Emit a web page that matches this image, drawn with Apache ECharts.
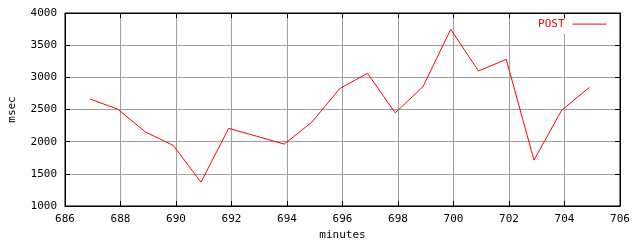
<!DOCTYPE html>
<html>
<head>
<meta charset="utf-8">
<script src="https://cdn.jsdelivr.net/npm/echarts@6/dist/echarts.min.js"></script>
<style>
html,body{margin:0;padding:0;background:#fff;}
#chart{width:640px;height:240px;}
</style>
</head>
<body>
<div id="chart"></div>
<script>
const minutes = [686.9, 687.9, 688.9, 689.9, 690.9, 691.9, 692.9, 693.9, 694.9, 695.9, 696.9, 697.9, 698.9, 699.9, 700.9, 701.9, 702.9, 703.9, 704.9];
const postMsec = [2663, 2505, 2150, 1942, 1370, 2207, 2085, 1962, 2305, 2825, 3062, 2448, 2855, 3746, 3098, 3280, 1713, 2490, 2845];
const seriesName = 'POST';
const xTitle = 'minutes';
const yTitle = 'msec';

const FONT = 'DejaVu Sans Mono';
const chart = echarts.init(document.getElementById('chart'), null, {renderer: 'canvas'});
const pts = minutes.map((m, i) => [m, postMsec[i]]);
const labelStyle = {color: '#000', fontFamily: FONT, fontSize: 11};
const tick = {show: true, inside: true, length: 5, lineStyle: {color: '#000', width: 1}};
const split = {show: true, lineStyle: {color: '#a0a0a0', width: 1}};
const plain = v => String(v);
chart.setOption({
  animation: false,
  grid: {left: 65, right: 20, top: 13, bottom: 34, show: true, borderColor: '#000', borderWidth: 1, outerBoundsMode: 'none', containLabel: false},
  legend: {
    data: [seriesName],
    right: 33, top: 18.5,
    align: 'right',
    itemWidth: 34, itemHeight: 14,
    backgroundColor: '#fff',
    padding: [0, 0, 4, 0],
    itemStyle: {opacity: 0},
    lineStyle: {color: '#ff0000', width: 1, opacity: 1},
    textStyle: {color: '#ff0000', fontFamily: FONT, fontSize: 11, padding: [0, 3, 0, 0]}
  },
  xAxis: [{
    type: 'value', min: 686, max: 706, interval: 2,
    name: xTitle, nameLocation: 'middle', nameGap: 20,
    nameTextStyle: labelStyle,
    axisLine: {show: true, lineStyle: {color: '#000'}},
    axisTick: tick, splitLine: split,
    axisLabel: Object.assign({margin: 8, formatter: plain}, labelStyle)
  }, {
    type: 'value', min: 686, max: 706, interval: 2, position: 'top',
    axisLine: {show: true, lineStyle: {color: '#000'}},
    axisTick: tick, splitLine: {show: false}, axisLabel: {show: false}
  }],
  yAxis: [{
    type: 'value', min: 1000, max: 4000, interval: 500,
    name: yTitle, nameLocation: 'middle', nameGap: 47, nameRotate: 90,
    nameTextStyle: labelStyle,
    axisLine: {show: true, lineStyle: {color: '#000'}},
    axisTick: tick, splitLine: split,
    axisLabel: Object.assign({margin: 8, formatter: plain}, labelStyle)
  }, {
    type: 'value', min: 1000, max: 4000, interval: 500, position: 'right',
    axisLine: {show: true, lineStyle: {color: '#000'}},
    axisTick: tick, splitLine: {show: false}, axisLabel: {show: false}
  }],
  series: [{
    name: seriesName, type: 'line', data: pts,
    symbol: 'none', smooth: false,
    lineStyle: {color: '#ff0000', width: 1},
    itemStyle: {color: '#ff0000'},
    z: 10
  }]
});
</script>
</body>
</html>
